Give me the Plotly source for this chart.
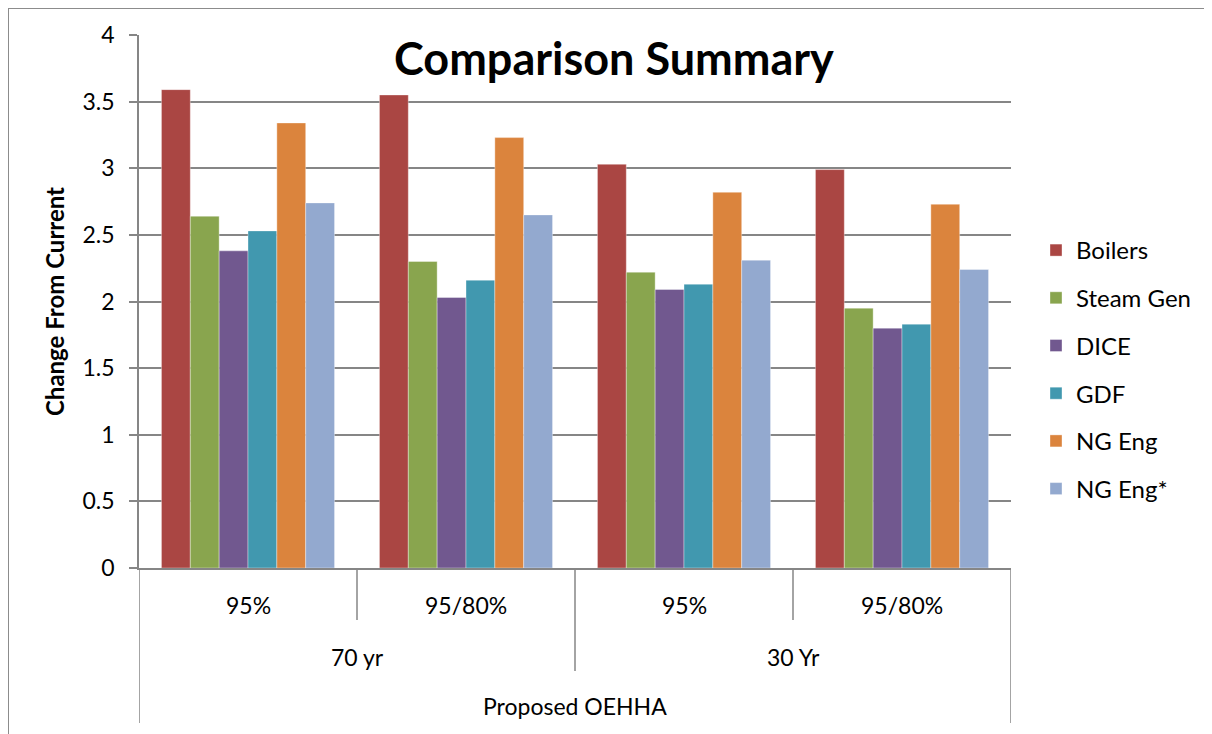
import plotly.graph_objects as go

groups_l1 = ["95%", "95/80%", "95%", "95/80%"]
groups_l2 = ["70 yr", "30 Yr"]
group_l3 = "Proposed OEHHA"

series_names = ["Boilers", "Steam Gen", "DICE", "GDF", "NG Eng", "NG Eng*"]
boilers = [3.59, 3.55, 3.03, 2.99]
steam_gen = [2.64, 2.30, 2.22, 1.95]
dice = [2.38, 2.03, 2.09, 1.80]
gdf = [2.53, 2.16, 2.13, 1.83]
ng_eng = [3.34, 3.23, 2.82, 2.73]
ng_eng_star = [2.74, 2.65, 2.31, 2.24]
series_values = [boilers, steam_gen, dice, gdf, ng_eng, ng_eng_star]
colors = ["#AA4643", "#89A54E", "#71588F", "#4198AF", "#DB843D", "#93A9CF"]

y_ticks = [0, 0.5, 1, 1.5, 2, 2.5, 3, 3.5, 4]
y_tick_text = ["0", "0.5", "1", "1.5", "2", "2.5", "3", "3.5", "4"]

FONT = "Lato"
GRID = "#868686"

OFF = 8  # page body margin
W, H = 1212 - OFF, 734 - OFF
# target page pixels of plot area: left 139, right 1011, top 35, bottom 568
L = 139 - OFF
T = 35 - OFF
plot_w = 1011 - 139
plot_h = 568 - 35
R = W - L - plot_w
B = H - T - plot_h

def py(page_pix):
    return (T + plot_h - (page_pix - OFF)) / plot_h

def px(page_pix):
    return ((page_pix - OFF) - L) / plot_w

xpos = list(range(len(groups_l1)))

fig = go.Figure()
for i, (name, vals) in enumerate(zip(series_names, series_values)):
    fig.add_trace(go.Bar(
        x=xpos, y=vals, name=name, legendgroup=name,
        marker=dict(color=colors[i], line=dict(width=0.6, color="rgba(255,255,255,0.6)")),
        hoverinfo="name+y",
    ))

shapes = []
for xd, ybot in [(-0.5, 723), (0.5, 620), (1.5, 671), (2.5, 620), (3.5, 723)]:
    shapes.append(dict(type="line", xref="x", yref="paper", x0=xd, x1=xd,
                       y0=0, y1=py(ybot), line=dict(color=GRID, width=1.5)))
# outer border (left and top)
shapes.append(dict(type="line", xref="paper", yref="paper", x0=px(OFF), x1=px(OFF),
                   y0=py(OFF), y1=py(760), line=dict(color="#8c8c8c", width=2)))
shapes.append(dict(type="line", xref="paper", yref="paper", x0=px(OFF), x1=px(1230),
                   y0=py(OFF), y1=py(OFF), line=dict(color="#8c8c8c", width=2)))

lab_font = dict(family=FONT, size=23, color="#000")
annotations = []
for i, lab in enumerate(groups_l1):
    annotations.append(dict(x=i, y=py(605), xref="x", yref="paper", text=lab,
                            xanchor="center", yanchor="middle",
                            showarrow=False, font=lab_font))
for j, lab in enumerate(groups_l2):
    annotations.append(dict(x=2 * j + 0.5, y=py(657), xref="x", yref="paper", text=lab,
                            xanchor="center", yanchor="middle",
                            showarrow=False, font=lab_font))
annotations.append(dict(x=(len(groups_l1) - 1) / 2, y=py(706), xref="x", yref="paper",
                        text=group_l3, xanchor="center", yanchor="middle",
                        showarrow=False, font=lab_font))
annotations.append(dict(x=px(614), y=py(58), xref="paper", yref="paper",
                        text="<b>Comparison Summary</b>", showarrow=False,
                        xanchor="center", yanchor="middle",
                        font=dict(family=FONT, size=45, color="#000")))

fig.update_layout(
    width=W, height=H,
    margin=dict(l=L, r=R, t=T, b=B, autoexpand=False),
    paper_bgcolor="white", plot_bgcolor="white",
    barmode="group", bargap=0.206, bargroupgap=0,
    showlegend=True,
    legend=dict(x=px(1036), y=py(228), xanchor="left", yanchor="top",
                font=dict(family=FONT, size=24, color="#000"),
                tracegroupgap=13.5, itemwidth=30, bgcolor="rgba(0,0,0,0)"),
    shapes=shapes, annotations=annotations,
    font=dict(family=FONT, color="#000"),
)
fig.update_xaxes(range=[-0.5, 3.5], showticklabels=False, showgrid=False,
                 zeroline=False, showline=True, linecolor=GRID, linewidth=1.5,
                 ticks="", fixedrange=True)
fig.update_yaxes(range=[0, 4], tickvals=y_ticks, ticktext=y_tick_text,
                 showgrid=True, gridcolor=GRID, gridwidth=1.5,
                 zeroline=False, showline=True, linecolor=GRID, linewidth=1.5,
                 ticks="outside", ticklen=8, tickcolor=GRID, tickwidth=1.5,
                 ticklabelstandoff=10,
                 tickfont=dict(family=FONT, size=23, color="#000"),
                 title=dict(text="<b>Change From Current</b>", standoff=11,
                            font=dict(family=FONT, size=24, color="#000")),
                 fixedrange=True)

fig.write_html("out.html")
